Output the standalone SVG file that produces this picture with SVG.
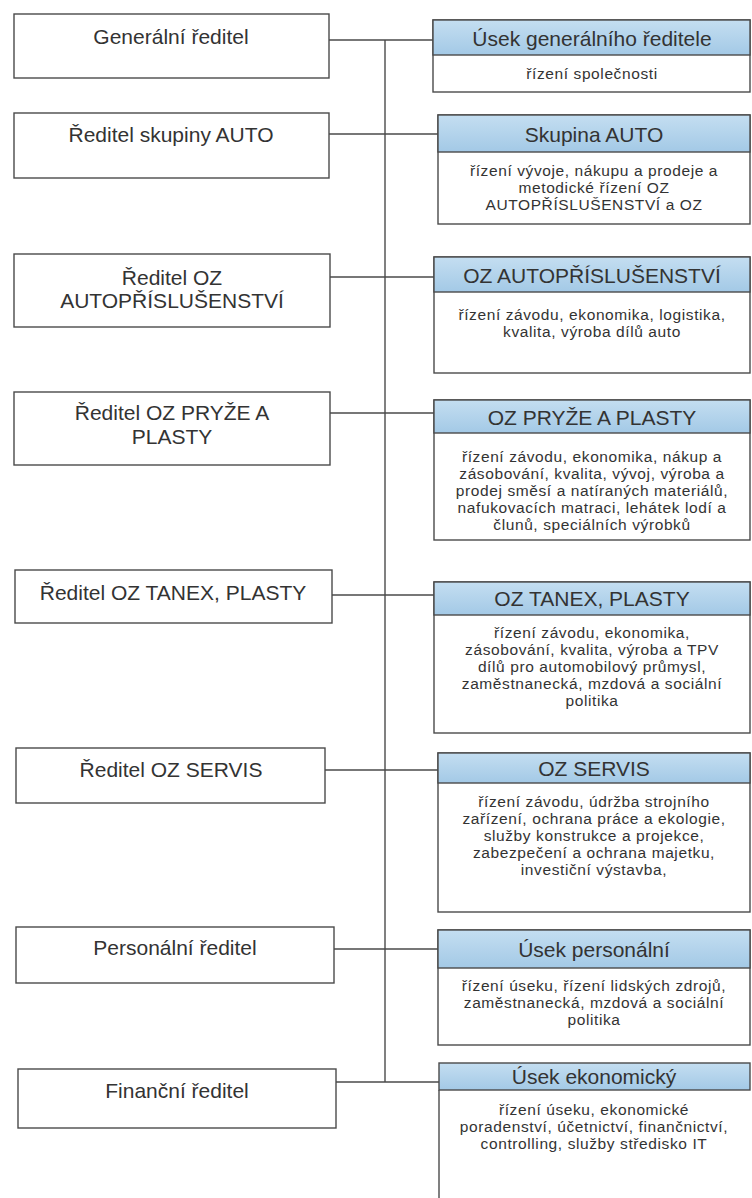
<svg xmlns="http://www.w3.org/2000/svg" width="752" height="1198" viewBox="0 0 752 1198">
<defs>
<linearGradient id="hdr" x1="0" y1="0" x2="0" y2="1">
<stop offset="0" stop-color="#c4def1"/>
<stop offset="1" stop-color="#a3c9e6"/>
</linearGradient>
<style>
.box{fill:#fff;stroke:#4a4a4a;stroke-width:1.4}
.hd{fill:url(#hdr);stroke:#4a4a4a;stroke-width:1.4}
.ln{fill:none;stroke:#4a4a4a;stroke-width:1.4}
text{font-family:"Liberation Sans",Arial,sans-serif;fill:#333;text-anchor:middle}
.lt{font-size:21px}
.ht{font-size:21px}
.bt{font-size:15.5px;letter-spacing:0.6px}
</style>
</defs>
<rect width="752" height="1198" fill="#fff"/>

<g id="connectors">
<line class="ln" x1="385" y1="40" x2="385" y2="1082"/>
<line class="ln" x1="329" y1="40" x2="433" y2="40"/>
<line class="ln" x1="329" y1="134" x2="438" y2="134"/>
<line class="ln" x1="330" y1="277" x2="434" y2="277"/>
<line class="ln" x1="330" y1="413" x2="434" y2="413"/>
<line class="ln" x1="332" y1="595" x2="434" y2="595"/>
<line class="ln" x1="325" y1="770" x2="438" y2="770"/>
<line class="ln" x1="334" y1="949" x2="438" y2="949"/>
<line class="ln" x1="336" y1="1082" x2="439" y2="1082"/>
</g>

<g id="l1"><rect class="box" x="14" y="14" width="315" height="64"/><text class="lt" x="171" y="44">Generální ředitel</text></g>
<g id="l2"><rect class="box" x="14" y="113" width="315" height="65"/><text class="lt" x="171" y="142">Ředitel skupiny AUTO</text></g>
<g id="l3"><rect class="box" x="14" y="254" width="316" height="73"/><text class="lt" x="172" y="285">Ředitel OZ</text><text class="lt" x="172" y="308">AUTOPŘÍSLUŠENSTVÍ</text></g>
<g id="l4"><rect class="box" x="14" y="392" width="316" height="73"/><text class="lt" x="172" y="420">Ředitel OZ PRYŽE A</text><text class="lt" x="172" y="444">PLASTY</text></g>
<g id="l5"><rect class="box" x="15" y="570" width="317" height="53"/><text class="lt" x="173" y="600">Ředitel OZ TANEX, PLASTY</text></g>
<g id="l6"><rect class="box" x="16" y="748" width="309" height="55"/><text class="lt" x="171" y="777">Ředitel OZ SERVIS</text></g>
<g id="l7"><rect class="box" x="16" y="927" width="318" height="56"/><text class="lt" x="175" y="955">Personální ředitel</text></g>
<g id="l8"><rect class="box" x="18" y="1069" width="318" height="59"/><text class="lt" x="177" y="1098">Finanční ředitel</text></g>

<g id="r1"><rect class="box" x="433" y="20" width="317" height="72"/><rect class="hd" x="433" y="20" width="317" height="35"/>
<text class="ht" x="592" y="46">Úsek generálního ředitele</text>
<text class="bt" x="592" y="79">řízení společnosti</text></g>

<g id="r2"><rect class="box" x="438" y="115" width="312" height="109"/><rect class="hd" x="438" y="115" width="312" height="37"/>
<text class="ht" x="594" y="142">Skupina AUTO</text>
<text class="bt" x="594" y="176">řízení vývoje, nákupu a prodeje a</text>
<text class="bt" x="594" y="193">metodické řízení OZ</text>
<text class="bt" x="594" y="210">AUTOPŘÍSLUŠENSTVÍ a OZ</text></g>

<g id="r3"><rect class="box" x="434" y="257" width="316" height="116"/><rect class="hd" x="434" y="257" width="316" height="35"/>
<text class="ht" x="592" y="283">OZ AUTOPŘÍSLUŠENSTVÍ</text>
<text class="bt" x="592" y="320">řízení závodu, ekonomika, logistika,</text>
<text class="bt" x="592" y="337">kvalita, výroba dílů auto</text></g>

<g id="r4"><rect class="box" x="434" y="400" width="316" height="140"/><rect class="hd" x="434" y="400" width="316" height="33"/>
<text class="ht" x="592" y="425">OZ PRYŽE A PLASTY</text>
<text class="bt" x="592" y="462">řízení závodu, ekonomika, nákup a</text>
<text class="bt" x="592" y="479">zásobování, kvalita, vývoj, výroba a</text>
<text class="bt" x="592" y="496">prodej směsí a natíraných materiálů,</text>
<text class="bt" x="592" y="513">nafukovacích matraci, lehátek lodí a</text>
<text class="bt" x="592" y="530">člunů, speciálních výrobků</text></g>

<g id="r5"><rect class="box" x="434" y="582" width="316" height="151"/><rect class="hd" x="434" y="582" width="316" height="33"/>
<text class="ht" x="592" y="606">OZ TANEX, PLASTY</text>
<text class="bt" x="592" y="638">řízení závodu, ekonomika,</text>
<text class="bt" x="592" y="655">zásobování, kvalita, výroba a TPV</text>
<text class="bt" x="592" y="672">dílů pro automobilový průmysl,</text>
<text class="bt" x="592" y="689">zaměstnanecká, mzdová a sociální</text>
<text class="bt" x="592" y="706">politika</text></g>

<g id="r6"><rect class="box" x="438" y="753" width="312" height="159"/><rect class="hd" x="438" y="753" width="312" height="30"/>
<text class="ht" x="594" y="776">OZ SERVIS</text>
<text class="bt" x="594" y="807">řízení závodu, údržba strojního</text>
<text class="bt" x="594" y="824">zařízení, ochrana práce a ekologie,</text>
<text class="bt" x="594" y="841">služby konstrukce a projekce,</text>
<text class="bt" x="594" y="858">zabezpečení a ochrana majetku,</text>
<text class="bt" x="594" y="875">investiční výstavba,</text></g>

<g id="r7"><rect class="box" x="438" y="930" width="312" height="115"/><rect class="hd" x="438" y="930" width="312" height="38"/>
<text class="ht" x="594" y="957">Úsek personální</text>
<text class="bt" x="594" y="991">řízení úseku, řízení lidských zdrojů,</text>
<text class="bt" x="594" y="1008">zaměstnanecká, mzdová a sociální</text>
<text class="bt" x="594" y="1025">politika</text></g>

<g id="r8"><line class="ln" x1="439" y1="1090" x2="439" y2="1198"/><rect class="hd" x="439" y="1063" width="311" height="27"/>
<text class="ht" x="594" y="1084">Úsek ekonomický</text>
<text class="bt" x="594" y="1115">řízení úseku, ekonomické</text>
<text class="bt" x="594" y="1132">poradenství, účetnictví, finančnictví,</text>
<text class="bt" x="594" y="1149">controlling, služby středisko IT</text></g>
</svg>
